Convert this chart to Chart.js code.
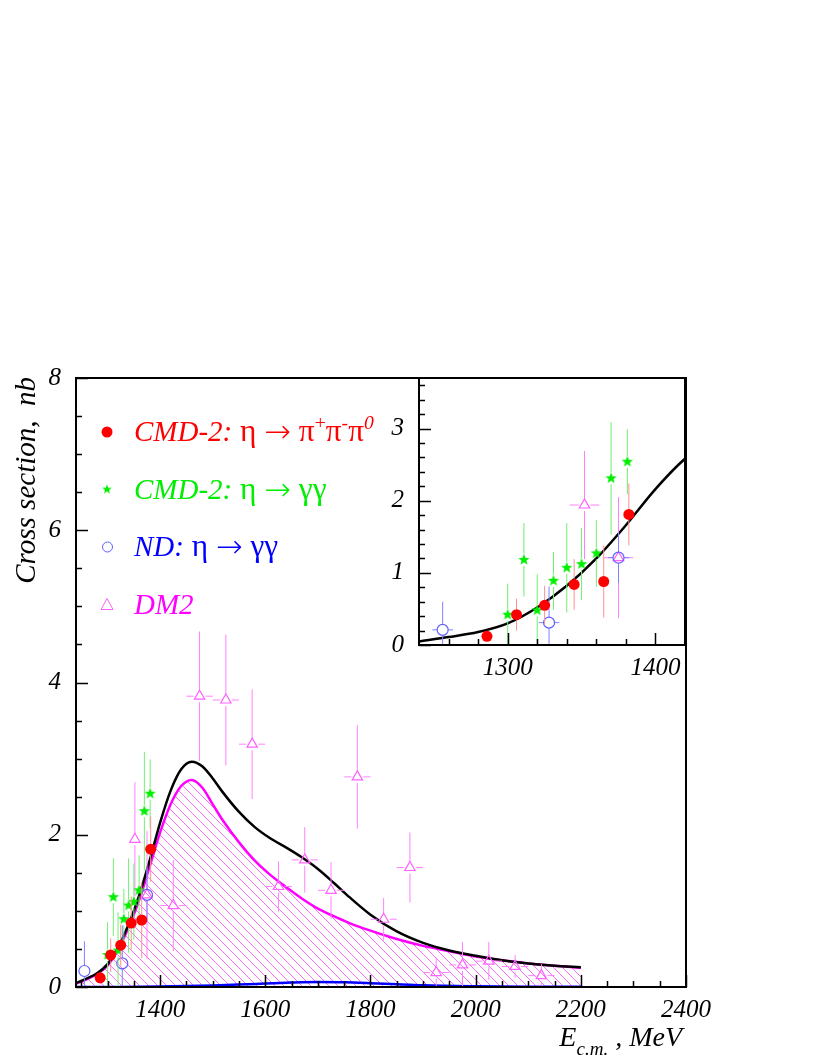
<!DOCTYPE html>
<html>
<head>
<meta charset="utf-8">
<script src="https://cdn.jsdelivr.net/npm/chart.js@4.4.1/dist/chart.umd.min.js"></script>
<style>
  html, body { margin: 0; padding: 0; background: #fff; }
  #wrap { position: relative; width: 822px; height: 1064px; }
  #mainChart { position: absolute; left: 0; top: 0; }
  #insetChart { position: absolute; left: 370px; top: 348px; }
</style>
</head>
<body>
<div id="wrap">
  <canvas id="mainChart" width="822" height="1064" style="width:822px;height:1064px"></canvas>
  <canvas id="insetChart" width="330" height="342" style="width:330px;height:342px"></canvas>
</div>
<script>
// fit curves, MeV / nb
const curveE = [1240, 1260, 1280, 1300, 1320, 1340, 1360, 1380, 1400, 1420, 1440, 1460, 1480, 1500, 1520,
                1550, 1580, 1610, 1640, 1670, 1700, 1730, 1760, 1800, 1850, 1900, 1950, 2000, 2050, 2100, 2150, 2200];
const totalFit = [0.05, 0.11, 0.18, 0.30, 0.52, 0.82, 1.20, 1.66, 2.16, 2.58, 2.86, 2.96, 2.90, 2.74, 2.55,
                  2.30, 2.10, 1.95, 1.83, 1.70, 1.55, 1.37, 1.18, 0.95, 0.73, 0.58, 0.48, 0.41, 0.35, 0.31, 0.28, 0.26];
const dm2Fit = [0.04, 0.10, 0.17, 0.28, 0.49, 0.78, 1.14, 1.58, 2.03, 2.40, 2.64, 2.72, 2.62, 2.40, 2.18,
                1.90, 1.66, 1.47, 1.31, 1.16, 1.03, 0.93, 0.84, 0.74, 0.63, 0.54, 0.47, 0.40, 0.35, 0.31, 0.28, 0.25];
const smallE = [1240, 1300, 1400, 1500, 1550, 1600, 1650, 1700, 1750, 1800, 1850, 1900, 2000, 2100, 2200];
const smallFit = [0, 0.001, 0.005, 0.02, 0.032, 0.045, 0.058, 0.065, 0.062, 0.05, 0.035, 0.022, 0.01, 0.004, 0.002];

// CMD-2, eta -> pi+ pi- pi0
const cmd3piE = [1286, 1306, 1325, 1345, 1365, 1382];
const cmd3piS = [0.12, 0.42, 0.55, 0.84, 0.88, 1.81];
const cmd3piErr = [0.08, 0.22, 0.27, 0.35, 0.5, 0.43];
// CMD-2, eta -> gamma gamma
const cmdGgE = [1300, 1311, 1320, 1331, 1340, 1350, 1360, 1370, 1381];
const cmdGgS = [0.42, 1.18, 0.48, 0.89, 1.07, 1.12, 1.27, 2.31, 2.54];
const cmdGgErr = [0.43, 0.51, 0.5, 0.4, 0.62, 0.5, 0.46, 0.78, 0.45];
// ND, eta -> gamma gamma
const ndE = [1256, 1328, 1375];
const ndS = [0.21, 0.31, 1.21];
const ndErr = [0.39, 0.5, 0.35];
const ndEErr = [7, 7, 7];
// DM2
const dm2E = [1352, 1375, 1425, 1475, 1525, 1575, 1625, 1675, 1725, 1775, 1825, 1875, 1925, 1975, 2025, 2075, 2125];
const dm2S = [1.94, 1.21, 1.07, 3.82, 3.77, 3.19, 1.32, 1.67, 1.27, 2.76, 0.89, 1.57, 0.19, 0.29, 0.34, 0.27, 0.15];
const dm2Err = [0.75, 0.84, 0.6, 0.85, 0.86, 0.72, 0.33, 0.43, 0.37, 0.68, 0.28, 0.46, 0.2, 0.3, 0.25, 0.15, 0.15];
const dm2EErr = [10, 10, 25, 25, 25, 25, 25, 25, 25, 25, 25, 25, 25, 25, 25, 25, 25];

const mainXTicks = [1400, 1600, 1800, 2000, 2200, 2400];
const mainYTicks = [0, 2, 4, 6, 8];
const insetXTicks = [1300, 1400];
const insetYTicks = [0, 1, 2, 3];

const FONT = '"Liberation Serif", "Times New Roman", serif';
const pts = (xs, ys) => xs.map((x, i) => ({x: x, y: ys[i]}));

function starImage(r, color) {
    const c = document.createElement('canvas');
    c.width = c.height = 2 * r + 2;
    const g = c.getContext('2d');
    g.fillStyle = color;
    g.beginPath();
    for (let k = 0; k < 10; k++) {
        const rr = k % 2 ? r * 0.42 : r;
        const a = -Math.PI / 2 + k * Math.PI / 5;
        g.lineTo(r + 1 + rr * Math.cos(a), r + 1 + rr * Math.sin(a));
    }
    g.closePath();
    g.fill();
    return c;
}

function hatchPattern() {
    const c = document.createElement('canvas');
    c.width = c.height = 9;
    const g = c.getContext('2d');
    g.strokeStyle = '#ff5cff';
    g.lineWidth = 0.9;
    g.beginPath();
    g.moveTo(-1, -1); g.lineTo(10, 10);
    g.stroke();
    return g.createPattern(c, 'repeat');
}

// rich text: parts of [text, style] with style n / g / i / sup / supi / subi / arrow
function setPartFont(ctx, st, size) {
    if (st === 'arrow') {
        ctx.font = '200 ' + (size * 1.1) + 'px "DejaVu Sans", "DejaVu Serif", sans-serif';
        return;
    }
    if (st === 'g') {
        ctx.font = (size * 1.08) + 'px ' + FONT;
        return;
    }
    const small = st.startsWith('sup') || st.startsWith('sub');
    const it = st === 'i' || st === 'supi' || st === 'subi';
    ctx.font = (it ? 'italic ' : '') + (small ? size * 0.68 : size) + 'px ' + FONT;
}
function richWidth(ctx, parts, size) {
    let w = 0;
    for (const [t, st] of parts) {
        setPartFont(ctx, st, size);
        w += ctx.measureText(t).width;
    }
    return w;
}
function drawRich(ctx, x, y, parts, size, color) {
    ctx.fillStyle = color;
    ctx.textAlign = 'left';
    ctx.textBaseline = 'alphabetic';
    for (const [t, st] of parts) {
        setPartFont(ctx, st, size);
        let yy = y;
        if (st.startsWith('sup')) yy = y - size * 0.42;
        if (st.startsWith('sub')) yy = y + size * 0.32;
        if (st === 'arrow') yy = y + size * 0.04;
        ctx.fillText(t, x, yy);
        x += ctx.measureText(t).width;
    }
}

// ROOT-like error bars, drawn just before each dataset's markers
const errorBars = {
    id: 'errorBars',
    beforeDatasetDraw(chart, args) {
        const ds = chart.data.datasets[args.index];
        if (!ds.errY) return;
        const {ctx, chartArea: a, scales: {x, y}} = chart;
        const gap = ds.pointRadius;
        ctx.save();
        ctx.beginPath();
        ctx.rect(a.left, a.top, a.right - a.left, a.bottom - a.top);
        ctx.clip();
        ctx.strokeStyle = ds.errColor;
        ctx.lineWidth = 1;
        ds.data.forEach((p, i) => {
            const px = x.getPixelForValue(p.x), py = y.getPixelForValue(p.y);
            const top = y.getPixelForValue(p.y + ds.errY[i]);
            const bot = y.getPixelForValue(p.y - ds.errY[i]);
            ctx.beginPath();
            if (top < py - gap) { ctx.moveTo(px, top); ctx.lineTo(px, py - gap); }
            if (bot > py + gap) { ctx.moveTo(px, py + gap); ctx.lineTo(px, bot); }
            if (ds.errX) {
                const l = x.getPixelForValue(p.x - ds.errX[i]);
                const r = x.getPixelForValue(p.x + ds.errX[i]);
                if (r > px + gap) {
                    ctx.moveTo(l, py); ctx.lineTo(px - gap, py);
                    ctx.moveTo(px + gap, py); ctx.lineTo(r, py);
                }
            }
            ctx.stroke();
        });
        ctx.restore();
    }
};

// frame + inward ticks
const frameTicks = {
    id: 'frameTicks',
    beforeDraw(chart, args, o) {
        if (!o.white) return;
        const a = chart.chartArea;
        chart.ctx.save();
        chart.ctx.fillStyle = '#fff';
        chart.ctx.fillRect(a.left, a.top, a.right - a.left, a.bottom - a.top);
        chart.ctx.restore();
    },
    afterDatasetsDraw(chart, args, o) {
        const {ctx, chartArea: a, scales: {x, y}} = chart;
        ctx.save();
        ctx.strokeStyle = '#000';
        ctx.lineWidth = 1.5;
        ctx.beginPath();
        for (let k = 0; ; k++) {
            const v = o.xFrom + k * o.xMinor;
            if (v > x.max + 1e-6) break;
            const px = Math.round(x.getPixelForValue(v)) + 0.5;
            const len = Math.abs(v % o.xMajor) < 1e-6 ? 12 : 6;
            ctx.moveTo(px, a.bottom); ctx.lineTo(px, a.bottom - len);
        }
        for (let k = 0; ; k++) {
            const v = y.min + k * o.yMinor;
            if (v > y.max + 1e-6) break;
            const py = Math.round(y.getPixelForValue(v)) + 0.5;
            const q = v / o.yMajor;
            const len = Math.abs(q - Math.round(q)) < 1e-6 ? 12 : 6;
            ctx.moveTo(a.left, py); ctx.lineTo(a.left + len, py);
        }
        ctx.stroke();
        ctx.lineWidth = 2;
        ctx.strokeRect(a.left, a.top, a.right - a.left, a.bottom - a.top);
        ctx.restore();
    }
};

const legendItems = [
    {color: '#ff0000', marker: 'dot', parts: [['CMD-2:', 'i'], [' η ', 'g'], ['→', 'arrow'], [' π', 'g'], ['+', 'sup'], ['π', 'g'], ['-', 'sup'], ['π', 'g'], ['0', 'supi']]},
    {color: '#00ee00', marker: 'star', parts: [['CMD-2:', 'i'], [' η ', 'g'], ['→', 'arrow'], [' γγ', 'g']]},
    {color: '#0000ff', marker: 'ring', parts: [['ND:', 'i'], [' η ', 'g'], ['→', 'arrow'], [' γγ', 'g']]},
    {color: '#ff00ff', marker: 'tri', parts: [['DM2', 'i']]}
];

const titles = {
    id: 'titles',
    afterDraw(chart) {
        const ctx = chart.ctx;
        ctx.save();
        // legend
        legendItems.forEach((it, i) => {
            const cy = 432 + i * 57.5;
            ctx.fillStyle = it.color;
            ctx.strokeStyle = it.color;
            ctx.lineWidth = 1;
            if (it.marker === 'dot') {
                ctx.beginPath(); ctx.arc(107, cy, 5.5, 0, 2 * Math.PI); ctx.fill();
            } else if (it.marker === 'star') {
                const s = starImage(5, '#00ee00');
                ctx.drawImage(s, 107 - s.width / 2, cy - s.height / 2);
            } else if (it.marker === 'ring') {
                ctx.strokeStyle = '#6060ff';
                ctx.beginPath(); ctx.arc(107.5, cy, 5, 0, 2 * Math.PI); ctx.stroke();
            } else {
                ctx.strokeStyle = '#ff60ff';
                ctx.beginPath(); ctx.moveTo(107, cy - 6); ctx.lineTo(113, cy + 5); ctx.lineTo(101, cy + 5); ctx.closePath(); ctx.stroke();
            }
            drawRich(ctx, 134, cy + 9, it.parts, 29, it.color);
        });
        // y title
        ctx.translate(35, 377);
        ctx.rotate(-Math.PI / 2);
        ctx.font = 'italic 29px ' + FONT;
        ctx.fillStyle = '#000';
        ctx.textAlign = 'right';
        ctx.textBaseline = 'alphabetic';
        ctx.fillText('Cross section,  nb', 0, 0);
        ctx.setTransform(1, 0, 0, 1, 0, 0);
        // x title
        const xt = [['E', 'i'], ['c.m.', 'subi'], [' , MeV', 'i']];
        const w = richWidth(ctx, xt, 28);
        drawRich(ctx, 682 - w, 1046, xt, 28, '#000');
        ctx.restore();
    }
};

const tickFont = {family: FONT, style: 'italic', size: 25};

function pointSets(xMax) {
    const keep = (xs, ys) => pts(xs, ys).filter(p => p.x <= xMax);
    return [
        {label: 'DM2', data: keep(dm2E, dm2S), errY: dm2Err, errX: dm2EErr, errColor: '#ff80ff',
         pointStyle: 'triangle', pointRadius: 6, borderColor: '#ff60ff', backgroundColor: 'rgba(0,0,0,0)',
         pointBorderWidth: 1.2, showLine: false, order: 4},
        {label: 'ND', data: keep(ndE, ndS), errY: ndErr, errX: ndEErr, errColor: '#8080ff',
         pointStyle: 'circle', pointRadius: 5.5, borderColor: '#6060ff', backgroundColor: 'rgba(0,0,0,0)',
         pointBorderWidth: 1.2, showLine: false, order: 3},
        {label: 'CMD-2 gg', data: keep(cmdGgE, cmdGgS), errY: cmdGgErr, errColor: '#70f070',
         pointStyle: starImage(6, '#00ee00'), pointRadius: 6, showLine: false, order: 2},
        {label: 'CMD-2 3pi', data: keep(cmd3piE, cmd3piS), errY: cmd3piErr, errColor: '#ff9090',
         pointStyle: 'circle', pointRadius: 5.5, backgroundColor: '#ff0000', borderColor: '#ff0000',
         pointBorderWidth: 0, showLine: false, order: 1}
    ];
}

function axes(xMin, xMax, yMax, xTicks, yTicks, xH, yW, xPad) {
    return {
        x: {
            type: 'linear', min: xMin, max: xMax,
            grid: {display: false, drawTicks: false}, border: {display: false},
            afterBuildTicks: s => { s.ticks = xTicks.map(v => ({value: v})); },
            afterFit: s => { s.height = xH; },
            ticks: {font: tickFont, color: '#000', padding: xPad, autoSkip: false, maxRotation: 0, callback: v => String(v)}
        },
        y: {
            type: 'linear', min: 0, max: yMax,
            grid: {display: false, drawTicks: false}, border: {display: false},
            afterBuildTicks: s => { s.ticks = yTicks.map(v => ({value: v})); },
            afterFit: s => { s.width = yW; },
            ticks: {font: tickFont, color: '#000', padding: 15, autoSkip: false, callback: v => String(v)}
        }
    };
}

function makeCharts() {
    new Chart(document.getElementById('mainChart'), {
        type: 'scatter',
        data: {
            datasets: [
                ...pointSets(2400),
                {type: 'line', label: 'small', data: pts(smallE, smallFit), borderColor: '#0000ff', borderWidth: 2.5,
                 pointRadius: 0, cubicInterpolationMode: 'monotone', fill: false, order: 5},
                {type: 'line', label: 'total', data: pts(curveE, totalFit), borderColor: '#000', borderWidth: 2.5,
                 pointRadius: 0, cubicInterpolationMode: 'monotone', fill: false, order: 6},
                {type: 'line', label: 'dm2 fit', data: pts(curveE, dm2Fit), borderColor: '#ff00ff', borderWidth: 2.5,
                 pointRadius: 0, cubicInterpolationMode: 'monotone', fill: 'origin', backgroundColor: hatchPattern(), order: 7}
            ]
        },
        options: {
            responsive: false,
            animation: false,
            devicePixelRatio: 1,
            layout: {padding: {left: 0, top: 378, right: 136, bottom: 0}},
            scales: axes(1240, 2400, 8, mainXTicks, mainYTicks, 77, 76, 8),
            plugins: {
                legend: {display: false},
                tooltip: {enabled: false},
                frameTicks: {xFrom: 1250, xMinor: 50, xMajor: 200, yMinor: 0.5, yMajor: 2}
            }
        },
        plugins: [errorBars, frameTicks, titles]
    });

    new Chart(document.getElementById('insetChart'), {
        type: 'scatter',
        data: {
            datasets: [
                ...pointSets(1420),
                {type: 'line', label: 'total', data: pts(curveE, totalFit), borderColor: '#000', borderWidth: 2.5,
                 pointRadius: 0, cubicInterpolationMode: 'monotone', fill: false, order: 6}
            ]
        },
        options: {
            responsive: false,
            animation: false,
            devicePixelRatio: 1,
            layout: {padding: {left: 0, top: 30, right: 15, bottom: 0}},
            scales: axes(1240, 1420, 3.7, insetXTicks, insetYTicks, 45, 49, 8),
            plugins: {
                legend: {display: false},
                tooltip: {enabled: false},
                frameTicks: {white: true, xFrom: 1260, xMinor: 20, xMajor: 100, yMinor: 0.2, yMajor: 1}
            }
        },
        plugins: [errorBars, frameTicks]
    });
}

document.addEventListener('DOMContentLoaded', makeCharts, false);
</script>
</body>
</html>
